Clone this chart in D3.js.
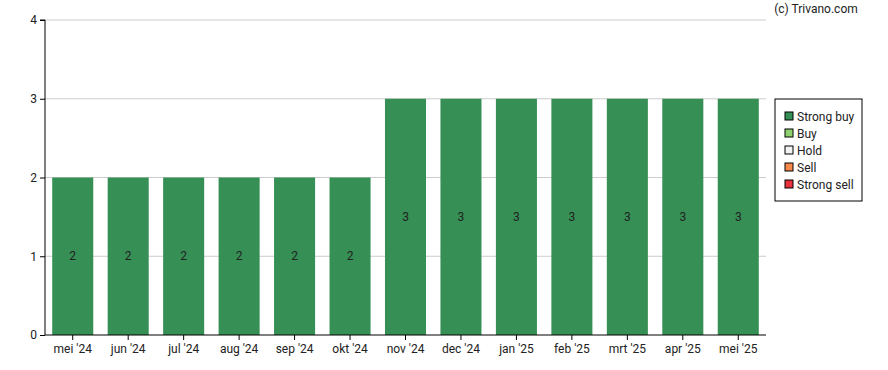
<!DOCTYPE html>
<html><head><meta charset="utf-8">
<script src="https://cdn.jsdelivr.net/npm/d3@7"></script>
<style>body{margin:0;background:#fff;}text{font-family:Roboto,sans-serif;}</style>
</head><body><div id="chart"></div>
<script>
const categories = ["mei '24","jun '24","jul '24","aug '24","sep '24","okt '24","nov '24","dec '24","jan '25","feb '25","mrt '25","apr '25","mei '25"];
const strongBuy = [2,2,2,2,2,2,3,3,3,3,3,3,3];
const yTicks = [0,1,2,3,4];
const legendLabels = ["Strong buy","Buy","Hold","Sell","Strong sell"];
const legendColors = ["#368f55","#8fd16e","#f2f2f2","#f5884a","#e8303f"];

const W=888,H=370;
const m={l:45,r:122,t:20,b:35};
const FS=12;
const svg=d3.select("#chart").append("svg").attr("width",W).attr("height",H);
const x=d3.scaleBand().domain(categories).range([m.l,W-m.r]).paddingInner(0.26).paddingOuter(0.13);
const y=d3.scaleLinear().domain([0,4]).range([H-m.b,m.t]);

svg.append("g").selectAll("line").data(yTicks.slice(1)).join("line")
  .attr("x1",m.l).attr("x2",W-m.r).attr("y1",d=>y(d)).attr("y2",d=>y(d))
  .attr("stroke","#cccccc").attr("stroke-width",1);

svg.append("g").selectAll("rect").data(strongBuy).join("rect")
  .attr("x",(d,i)=>x(categories[i])).attr("width",x.bandwidth())
  .attr("y",d=>y(d)).attr("height",d=>y(0)-y(d)).attr("fill",legendColors[0]);

svg.append("g").selectAll("text").data(strongBuy).join("text")
  .attr("x",(d,i)=>x(categories[i])+x.bandwidth()/2).attr("y",d=>y(d/2))
  .attr("dy","0.35em").attr("text-anchor","middle").attr("font-size",FS).attr("fill","#222")
  .text(d=>d);

const yAxis=svg.append("g").attr("transform",`translate(${m.l},0)`)
  .call(d3.axisLeft(y).tickValues(yTicks).tickFormat(d3.format("d")).tickSize(5).tickPadding(3));
const xAxis=svg.append("g").attr("transform",`translate(0,${H-m.b})`)
  .call(d3.axisBottom(x).tickSize(5).tickPadding(4));
[yAxis,xAxis].forEach(a=>{
  a.selectAll("text").attr("font-size",FS).attr("fill","#222").attr("font-family","Roboto,sans-serif");
  a.select(".domain").attr("stroke","#000");
  a.selectAll(".tick line").attr("stroke","#000");
});
yAxis.select(".domain").attr("d",`M-5,${y(4)}H0V${y(0)}`);
xAxis.select(".domain").attr("d",`M${m.l},0H${W-m.r}`);

svg.append("text").attr("x",W-72).attr("y",13).attr("text-anchor","middle")
  .attr("font-size",FS).attr("fill","#222").text("(c) Trivano.com");

const lg=svg.append("g").attr("transform","translate(775,99)");
lg.append("rect").attr("width",87).attr("height",102).attr("fill","#fff").attr("stroke","#000");
legendLabels.forEach((l,i)=>{
  const g=lg.append("g").attr("transform",`translate(10,${22+i*17})`);
  g.append("rect").attr("x",0).attr("y",-9).attr("width",8).attr("height",8)
    .attr("fill",legendColors[i]).attr("stroke","#000").attr("stroke-width",1);
  g.append("text").attr("x",12).attr("y",0).attr("font-size",FS).attr("fill","#222").text(l);
});
</script></body></html>
